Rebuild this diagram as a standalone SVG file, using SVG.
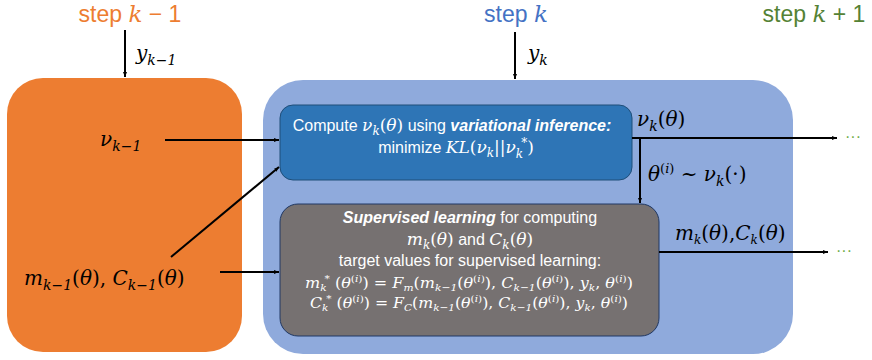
<svg xmlns="http://www.w3.org/2000/svg" width="872" height="360" viewBox="0 0 872 360">
<defs>
<marker id="ah" viewBox="0 0 10 10" refX="10" refY="5" markerWidth="5" markerHeight="5" orient="auto" markerUnits="userSpaceOnUse">
<path d="M0,1 L10,5 L0,9 z" fill="#000"/>
</marker>
<style>
.m{font-family:"DejaVu Serif","Liberation Serif",serif;font-style:italic;font-size:20px;fill:#000}
.r{font-style:normal}
.t{font-family:"Liberation Sans","Noto Sans",sans-serif;font-size:16px;fill:#fff}
.tm{font-family:"DejaVu Serif","Liberation Serif",serif;font-style:italic;fill:#fff}
.step{font-family:"Liberation Sans","Noto Sans",sans-serif;font-size:23px}
.ln{stroke:#000;stroke-width:2;fill:none}
.dots{font-family:"Liberation Sans",sans-serif;font-size:16px;fill:#70AD47}
</style>
</defs>

<g id="step-prev">
<text class="step" x="130" y="22" text-anchor="middle" fill="#ED7D31">step <tspan font-family="DejaVu Serif" font-style="italic">k</tspan> − 1</text>
</g>
<g id="step-cur">
<text class="step" x="516" y="22" text-anchor="middle" fill="#4472C4">step <tspan font-family="DejaVu Serif" font-style="italic">k</tspan></text>
</g>
<g id="step-next">
<text class="step" x="814" y="22" text-anchor="middle" fill="#548235">step <tspan font-family="DejaVu Serif" font-style="italic">k</tspan> + 1</text>
</g>

<g id="prev-box">
<rect x="7" y="78" width="235" height="274" rx="36" fill="#ED7D31"/>
<text class="m" x="100" y="146">ν<tspan font-size="14" dy="5">k−1</tspan></text>
<text class="m" x="24" y="285">m<tspan font-size="14" dy="5">k−1</tspan><tspan class="r" dy="-5">(</tspan>θ<tspan class="r">), </tspan><tspan>C</tspan><tspan font-size="14" dy="5">k−1</tspan><tspan class="r" dy="-5">(</tspan>θ<tspan class="r">)</tspan></text>
</g>

<g id="cur-box">
<rect x="263" y="80" width="530" height="274" rx="40" fill="#8FAADC"/>
</g>

<g id="vi-box">
<rect x="280" y="105" width="352" height="75" rx="13" fill="#2E75B6" stroke="#1F4E79" stroke-width="1"/>
<text class="t" x="452" y="131" text-anchor="middle">Compute <tspan class="tm" font-size="17">ν</tspan><tspan class="tm" font-size="12" dy="4">k</tspan><tspan class="tm" font-size="17" dy="-4"><tspan font-style="normal">(</tspan>θ<tspan font-style="normal">)</tspan></tspan> using <tspan font-weight="bold" font-style="italic">variational inference:</tspan></text>
<text class="t" x="456" y="153" text-anchor="middle">minimize <tspan class="tm" font-size="17">KL<tspan font-style="normal">(</tspan>ν</tspan><tspan class="tm" font-size="12" dy="4">k</tspan><tspan class="tm" font-size="17" dy="-4"><tspan font-style="normal">||</tspan>ν</tspan><tspan class="tm" font-size="12" dy="5">k</tspan><tspan class="tm" font-size="12" dy="-11" dx="-2">*</tspan><tspan class="tm" font-size="17" dy="6"><tspan font-style="normal">)</tspan></tspan></text>
</g>

<g id="sl-box">
<rect x="280" y="204" width="379" height="132" rx="18" fill="#767171" stroke="#203864" stroke-width="1"/>
<text class="t" x="470" y="223" text-anchor="middle"><tspan font-weight="bold" font-style="italic">Supervised learning</tspan> for computing</text>
<text class="t" x="470" y="245" text-anchor="middle"><tspan class="tm" font-size="17">m</tspan><tspan class="tm" font-size="12" dy="4">k</tspan><tspan class="tm" font-size="17" dy="-4"><tspan font-style="normal">(</tspan>θ<tspan font-style="normal">)</tspan></tspan> and <tspan class="tm" font-size="17">C</tspan><tspan class="tm" font-size="12" dy="4">k</tspan><tspan class="tm" font-size="17" dy="-4"><tspan font-style="normal">(</tspan>θ<tspan font-style="normal">)</tspan></tspan></text>
<text class="t" x="470" y="266" text-anchor="middle">target values for supervised learning:</text>
<text class="tm" font-size="15" x="469" y="288" text-anchor="middle" textLength="328" lengthAdjust="spacingAndGlyphs">m<tspan font-size="10" dy="3">k</tspan><tspan font-size="10" dy="-9" dx="-2">*</tspan><tspan dy="6"> <tspan font-style="normal">(</tspan>θ</tspan><tspan font-size="10" dy="-6" font-style="normal">(<tspan font-style="italic">i</tspan>)</tspan><tspan dy="6"><tspan font-style="normal">) = </tspan>F</tspan><tspan font-size="10" dy="3">m</tspan><tspan dy="-3"><tspan font-style="normal">(</tspan>m</tspan><tspan font-size="10" dy="3">k−1</tspan><tspan dy="-3"><tspan font-style="normal">(</tspan>θ</tspan><tspan font-size="10" dy="-6" font-style="normal">(<tspan font-style="italic">i</tspan>)</tspan><tspan dy="6" font-style="normal">), </tspan><tspan>C</tspan><tspan font-size="10" dy="3">k−1</tspan><tspan dy="-3"><tspan font-style="normal">(</tspan>θ</tspan><tspan font-size="10" dy="-6" font-style="normal">(<tspan font-style="italic">i</tspan>)</tspan><tspan dy="6" font-style="normal">), </tspan><tspan>y</tspan><tspan font-size="10" dy="3">k</tspan><tspan dy="-3"><tspan font-style="normal">, </tspan>θ</tspan><tspan font-size="10" dy="-6" font-style="normal">(<tspan font-style="italic">i</tspan>)</tspan><tspan dy="6" font-style="normal">)</tspan></text>
<text class="tm" font-size="15" x="469" y="308" text-anchor="middle" textLength="318" lengthAdjust="spacingAndGlyphs">C<tspan font-size="10" dy="3">k</tspan><tspan font-size="10" dy="-9" dx="-2">*</tspan><tspan dy="6"> <tspan font-style="normal">(</tspan>θ</tspan><tspan font-size="10" dy="-6" font-style="normal">(<tspan font-style="italic">i</tspan>)</tspan><tspan dy="6"><tspan font-style="normal">) = </tspan>F</tspan><tspan font-size="10" dy="3">C</tspan><tspan dy="-3"><tspan font-style="normal">(</tspan>m</tspan><tspan font-size="10" dy="3">k−1</tspan><tspan dy="-3"><tspan font-style="normal">(</tspan>θ</tspan><tspan font-size="10" dy="-6" font-style="normal">(<tspan font-style="italic">i</tspan>)</tspan><tspan dy="6" font-style="normal">), </tspan><tspan>C</tspan><tspan font-size="10" dy="3">k−1</tspan><tspan dy="-3"><tspan font-style="normal">(</tspan>θ</tspan><tspan font-size="10" dy="-6" font-style="normal">(<tspan font-style="italic">i</tspan>)</tspan><tspan dy="6" font-style="normal">), </tspan><tspan>y</tspan><tspan font-size="10" dy="3">k</tspan><tspan dy="-3"><tspan font-style="normal">, </tspan>θ</tspan><tspan font-size="10" dy="-6" font-style="normal">(<tspan font-style="italic">i</tspan>)</tspan><tspan dy="6" font-style="normal">)</tspan></text>
</g>

<g id="connectors">
<line class="ln" x1="125" y1="30" x2="125" y2="77" marker-end="url(#ah)"/>
<line class="ln" x1="515" y1="32" x2="515" y2="79" marker-end="url(#ah)"/>
<line class="ln" x1="165" y1="140" x2="279" y2="140" marker-end="url(#ah)"/>
<line class="ln" x1="171" y1="257" x2="279" y2="167" marker-end="url(#ah)"/>
<line class="ln" x1="220" y1="272" x2="279" y2="272" marker-end="url(#ah)"/>
<line class="ln" x1="632" y1="138" x2="837" y2="138" marker-end="url(#ah)"/>
<line class="ln" x1="640" y1="138" x2="640" y2="203" marker-end="url(#ah)"/>
<line class="ln" x1="659" y1="252" x2="828" y2="252" marker-end="url(#ah)"/>
<text class="m" x="136" y="60">y<tspan font-size="14" dy="5">k−1</tspan></text>
<text class="m" x="528" y="60">y<tspan font-size="14" dy="5">k</tspan></text>
<text class="m" x="637" y="126">ν<tspan font-size="14" dy="5">k</tspan><tspan class="r" dy="-5">(</tspan>θ<tspan class="r">)</tspan></text>
<text class="m" x="648" y="181">θ<tspan class="r" font-size="13" dy="-8">(<tspan font-style="italic">i</tspan>)</tspan><tspan class="r" dy="8"> ~ </tspan>ν<tspan font-size="14" dy="5">k</tspan><tspan class="r" dy="-5">(·)</tspan></text>
<text class="m" x="675" y="240" font-size="17">m<tspan font-size="12" dy="4">k</tspan><tspan class="r" dy="-4">(</tspan>θ<tspan class="r">),</tspan><tspan>C</tspan><tspan font-size="12" dy="4">k</tspan><tspan class="r" dy="-4">(</tspan>θ<tspan class="r">)</tspan></text>
<text class="dots" x="845" y="142">···</text>
<text class="dots" x="836" y="256">···</text>
</g>
</svg>
